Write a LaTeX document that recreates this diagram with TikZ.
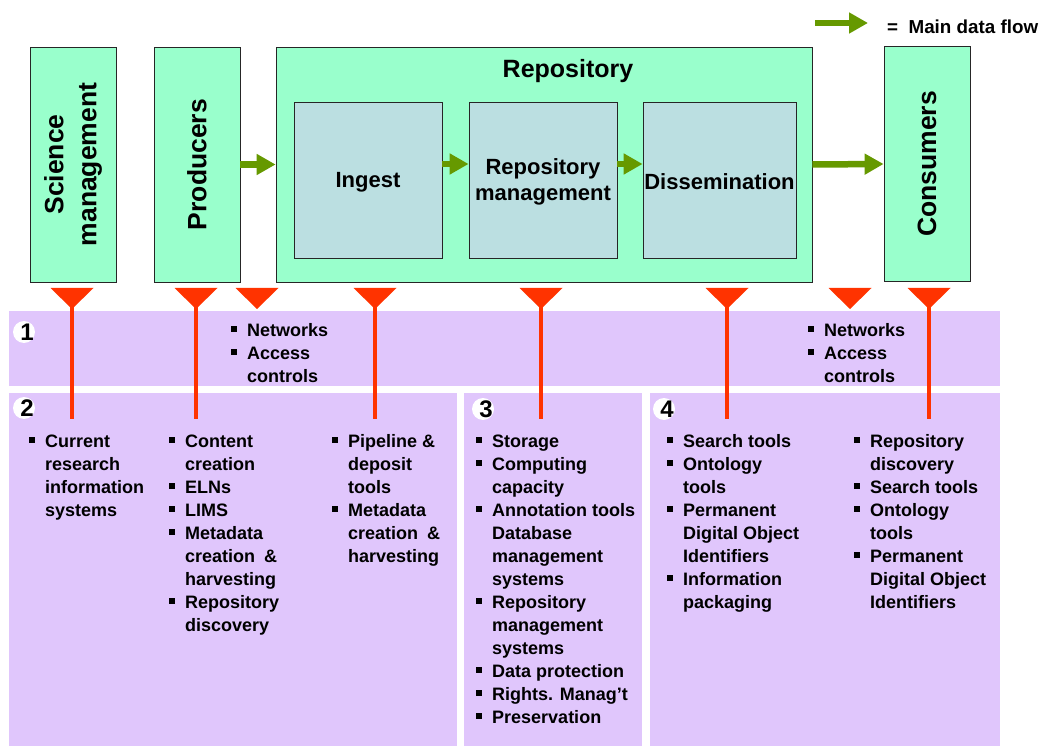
\documentclass[tikz,border=0pt]{standalone}
\usepackage{fontspec}
\setmainfont{Liberation Sans}
\usetikzlibrary{arrows.meta}

\definecolor{boxgreen}{RGB}{153,255,204}
\definecolor{stagegray}{RGB}{187,223,225}
\definecolor{lilac}{RGB}{224,198,252}
\definecolor{flowgreen}{RGB}{102,153,0}
\definecolor{alertred}{RGB}{255,51,0}

% bullet and indent for the tool lists
\newcommand{\bul}{\makebox[16pt][l]{\raisebox{5pt}{\rule{6pt}{6pt}}}\rule{0pt}{13.5pt}}
\newcommand{\ind}{\hspace*{16pt}\rule{0pt}{13.5pt}}

\tikzset{
  actor/.style={draw=black!85, line width=0.8pt, fill=boxgreen, minimum width=86pt, minimum height=235pt, inner sep=0pt},
  stage/.style={draw=black!85, line width=0.8pt, fill=stagegray, minimum height=156pt, inner sep=0pt, align=center, font=\fontsize{22}{26}\selectfont\bfseries},
  vlabel/.style={rotate=90, align=center, font=\fontsize{26.5}{33}\selectfont\bfseries},
  flow/.style={draw=flowgreen, line width=6.5pt, -{Triangle[length=19pt,width=20pt]}},
  panel/.style={fill=lilac},
  tri/.style={fill=alertred},
  link/.style={draw=alertred, line width=4pt},
  numc/.style={circle, fill=white, inner sep=0pt, minimum size=22pt},
  numd/.style={inner sep=0pt, font=\fontsize{24}{24}\selectfont\bfseries},
  items/.style={anchor=north west, inner sep=0pt, align=left, font=\fontsize{18}{23}\selectfont\bfseries}
}

\begin{document}
\begin{tikzpicture}[x=1pt, y=-1pt]
    \useasboundingbox (0,0) rectangle (1042,746);

    % Lower panels
    \path[panel] (9,311) rectangle (1000,386);
    \path[panel] (9,393) rectangle (457,746);
    \path[panel] (464,393) rectangle (642,746);
    \path[panel] (650,393) rectangle (1000,746);

    % Top row
    \node[actor] (sci) at (73,164.5) {};
    \node[actor] (prod) at (197,164.5) {};
    \node[actor, minimum width=536pt] (repo) at (544,164.5) {};
    \node[actor] (cons) at (927,164) {};
    \node[vlabel] (scit) at (sci) {Science\\management};
    \node[vlabel] (prodt) at (prod) {Producers};
    \node[vlabel] (cont) at (cons) {Consumers};
    \node[font=\fontsize{25}{30}\selectfont\bfseries] (repot) at (568,71) {Repository};

    \node[stage, minimum width=148pt] (ingest) at (368,180) {};
    \node[stage, minimum width=148pt] (rmgmt) at (543,180) {};
    \node[stage, minimum width=153pt] (dissem) at (719.5,180) {};
    \node[stage, draw=none, fill=none, minimum height=0pt] (ingestt) at (368,182) {Ingest};
    \node[stage, draw=none, fill=none, minimum height=0pt] (rmgmtt) at (543,182) {Repository\\management};
    \node[stage, draw=none, fill=none, minimum height=0pt] (dissemt) at (719.5,182) {Dissemination};

    % Main data flow
    \draw[flow] (prod.east) -- (repo.west);
    \draw[flow] ([yshift=16pt]ingest.east) -- ([yshift=16pt]rmgmt.west);
    \draw[flow] ([yshift=16pt]rmgmt.east) -- ([yshift=16pt]dissem.west);
    \draw[flow] (repo.east) -- (cons.west);

    % Legend
    \coordinate (legA) at (815,23);
    \coordinate (legB) at (868,23);
    \draw[flow] (legA) -- (legB);
    \node[anchor=west, inner sep=0pt, font=\fontsize{18.8}{20}\selectfont\bfseries] (leg) at (887,27) {=\ \ Main data flow};

    % Red markers
    \foreach \x/\n in {72/a,196/b,257/c,375/d,541/e,727/f,850/g,929/h}{
        \fill[tri] (\x-21.5,288) -- (\x+21.5,288) -- (\x,309) -- cycle;
        \coordinate (tip\n) at (\x,305);
        \coordinate (end\n) at (\x,419);
    }
    \foreach \n in {a,b,d,e,f,h}
        \draw[link] (tip\n) -- (end\n);

    % Layer numbers
    \foreach \n/\x/\y in {1/24/332, 2/24/408, 3/483/409, 4/664/409}{
        \node[numc] (n\n) at (\x,\y) {};
        \node[numd] (d\n) at ([xshift=3pt]n\n) {\n};
    }

    % Layer 1
    \node[items] (netl) at (231,323) {\bul Networks\\ \bul Access\\ \ind controls};
    \node[items] (netr) at (808,323) {\bul Networks\\ \bul Access\\ \ind controls};

    % Layer 2
    \node[items] (crisys) at (29,434) {\bul Current\\ \ind research\\ \ind information\\ \ind systems};
    \node[items] (content) at (169,434) {\bul Content\\ \ind creation\\ \bul ELNs\\ \bul LIMS\\ \bul Metadata\\ \ind creation\hspace{9pt}\&\\ \ind harvesting\\ \bul Repository\\ \ind discovery};
    \node[items] (deposit) at (332,434) {\bul Pipeline \&\\ \ind deposit\\ \ind tools\\ \bul Metadata\\ \ind creation\hspace{9pt}\&\\ \ind harvesting};

    % Layer 3
    \node[items] (store) at (476,434) {\bul Storage\\ \bul Computing\\ \ind capacity\\ \bul Annotation tools\\ \ind Database\\ \ind management\\ \ind systems\\ \bul Repository\\ \ind management\\ \ind systems\\ \bul Data protection\\ \bul Rights. Manag't\\ \bul Preservation};

    % Layer 4
    \node[items] (search) at (667,434) {\bul Search tools\\ \bul Ontology\\ \ind tools\\ \bul Permanent\\ \ind Digital Object\\ \ind Identifiers\\ \bul Information\\ \ind packaging};
    \node[items] (discov) at (854,434) {\bul Repository\\ \ind discovery\\ \bul Search tools\\ \bul Ontology\\ \ind tools\\ \bul Permanent\\ \ind Digital Object\\ \ind Identifiers};
\end{tikzpicture}
\end{document}
